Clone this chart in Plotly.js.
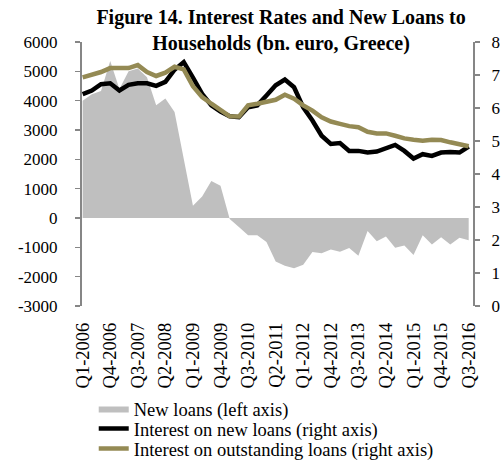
<!DOCTYPE html>
<html>
<head>
<meta charset="utf-8">
<script src="https://cdn.plot.ly/plotly-3.0.1.min.js"></script>
<style>html,body{margin:0;padding:0;background:#fff}#chart{width:503px;height:463px}</style>
</head>
<body>
<div id="chart"></div>
<script>
// Categories: quarters Q1-2006 .. Q3-2016
const quarters = [];
for (let y = 2006; y <= 2016; y++) {
  for (let q = 1; q <= 4; q++) {
    if (y === 2016 && q > 3) break;
    quarters.push('Q' + q + '-' + y);
  }
}

// New loans to households (left axis)
const newLoans = [4000, 4220, 4330, 5350, 4400, 5000, 5100, 4800, 3840, 4070,
  3610, 2000, 420, 730, 1260, 1100, -30, -310, -590, -590,
  -820, -1480, -1630, -1710, -1590, -1160, -1200, -1070, -1150, -1020,
  -1290, -440, -790, -630, -1010, -940, -1260, -590, -900, -660,
  -900, -670, -760];

// Interest on new loans (right axis, %)
const rateNew = [6.42, 6.53, 6.72, 6.75, 6.53, 6.70, 6.75, 6.75, 6.67, 6.79,
  7.16, 7.39, 6.92, 6.43, 6.08, 5.89, 5.75, 5.72, 6.02, 6.08,
  6.38, 6.69, 6.86, 6.63, 6.02, 5.62, 5.16, 4.91, 4.94, 4.70,
  4.70, 4.65, 4.68, 4.78, 4.88, 4.70, 4.47, 4.60, 4.55, 4.65,
  4.67, 4.65, 4.83];

// Interest on outstanding loans (right axis, %)
const rateOutstanding = [6.93, 7.01, 7.09, 7.21, 7.21, 7.21, 7.30, 7.09, 6.97, 7.07,
  7.25, 7.17, 6.66, 6.33, 6.13, 5.92, 5.75, 5.74, 6.08, 6.13,
  6.18, 6.25, 6.40, 6.28, 6.08, 5.92, 5.72, 5.59, 5.52, 5.45,
  5.42, 5.28, 5.23, 5.23, 5.16, 5.08, 5.04, 5.01, 5.04, 5.03,
  4.96, 4.89, 4.84];

const seriesNames = ['New loans (left axis)', 'Interest on new loans (right axis)', 'Interest on outstanding loans (right axis)'];
const leftTicks = [-3000, -2000, -1000, 0, 1000, 2000, 3000, 4000, 5000, 6000];
const rightTicks = [0, 1, 2, 3, 4, 5, 6, 7, 8];

const FONT = 'Liberation Serif, DejaVu Serif, serif';
const AXIS_GREY = '#868686';
const xRange = [-0.07, 42.47];

const traces = [
  {
    x: quarters, y: newLoans, name: seriesNames[0], type: 'scatter', mode: 'lines',
    fill: 'tozeroy', fillcolor: '#BFBFBF', line: {width: 0, color: '#BFBFBF'},
    xaxis: 'x', yaxis: 'y', legend: 'legend'
  },
  {
    x: quarters, y: rateNew, name: seriesNames[1], type: 'scatter', mode: 'lines',
    line: {color: '#000000', width: 4.5}, xaxis: 'x', yaxis: 'y2', legend: 'legend2'
  },
  {
    x: quarters, y: rateOutstanding, name: seriesNames[2], type: 'scatter', mode: 'lines',
    line: {color: '#948A54', width: 4.5}, xaxis: 'x', yaxis: 'y2', legend: 'legend3'
  }
];

function legendAt(yPaper) {
  return {
    orientation: 'v', x: 0.03, xanchor: 'left', y: yPaper, yanchor: 'middle',
    font: {family: FONT, size: 18.5, color: '#000'},
    bgcolor: 'rgba(0,0,0,0)', borderwidth: 0, tracegroupgap: 0, itemwidth: 30
  };
}

const layout = {
  width: 503, height: 463,
  margin: {l: 82, r: 30, t: 42, b: 157, pad: 0, autoexpand: false},
  paper_bgcolor: '#ffffff', plot_bgcolor: '#ffffff',
  font: {family: FONT, size: 17, color: '#000'},
  showlegend: true,
  title: {
    text: '<b>Figure 14. Interest Rates and New Loans to<br>Households (bn. euro, Greece)</b>',
    font: {family: FONT, size: 20, color: '#000'},
    xref: 'paper', x: 0.509, xanchor: 'center',
    yref: 'container', y: 0.948, yanchor: 'middle'
  },
  xaxis: {
    type: 'category', categoryorder: 'array', categoryarray: quarters,
    range: xRange, tickmode: 'linear', tick0: 0, dtick: 3, automargin: false,
    tickangle: -90, ticks: '', showline: false, showgrid: false, zeroline: false,
    ticklabelstandoff: 12,
    tickfont: {family: FONT, size: 18.5, color: '#000'}
  },
  xaxis2: {
    type: 'category', categoryorder: 'array', categoryarray: quarters,
    overlaying: 'x', matches: 'x', anchor: 'free', position: 1/3,
    range: xRange, tickmode: 'linear', tick0: 0, dtick: 1, tickson: 'boundaries',
    ticks: 'outside', ticklen: 4, tickwidth: 1.3, tickcolor: AXIS_GREY,
    showticklabels: false, showline: true, linecolor: AXIS_GREY, linewidth: 2,
    showgrid: false, zeroline: false
  },
  yaxis: {
    range: [-3000, 6000], tickvals: leftTicks, ticktext: leftTicks.map(String),
    ticks: 'outside', ticklen: 5, tickwidth: 1.3, tickcolor: AXIS_GREY, automargin: false,
    showline: true, linecolor: AXIS_GREY, linewidth: 2,
    showgrid: false, zeroline: false, ticklabelstandoff: 14,
    tickfont: {family: FONT, size: 17, color: '#000'}
  },
  yaxis2: {
    range: [0, 8], tickvals: rightTicks, ticktext: rightTicks.map(String),
    overlaying: 'y', side: 'right', anchor: 'x', automargin: false,
    ticks: 'outside', ticklen: 5, tickwidth: 1.3, tickcolor: AXIS_GREY,
    showline: true, linecolor: AXIS_GREY, linewidth: 2,
    showgrid: false, zeroline: false, ticklabelstandoff: 8,
    tickfont: {family: FONT, size: 17, color: '#000'}
  },
  legend: legendAt(-0.390),
  legend2: legendAt(-0.466),
  legend3: legendAt(-0.542)
};

Plotly.newPlot('chart', traces, layout, {staticPlot: true, displayModeBar: false});
</script>
</body>
</html>
